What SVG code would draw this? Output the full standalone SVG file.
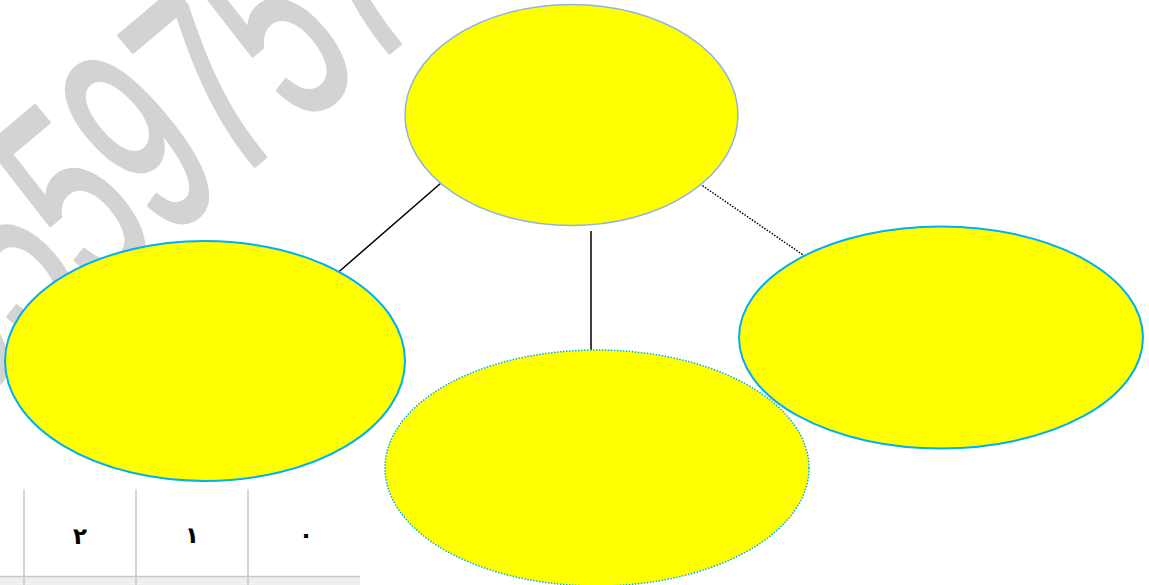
<svg xmlns="http://www.w3.org/2000/svg" width="1149" height="585" viewBox="0 0 1149 585">
<style>
.wm{font-family:"Liberation Sans",Arial,sans-serif;fill:#d3d3d3;stroke:#d3d3d3;stroke-width:5;stroke-linejoin:round}
.node{fill:#ffff00}
.solid{stroke:#00b0f0;stroke-width:2}
.top{stroke:#8eb4e3;stroke-width:1.5}
.dotted{stroke:#00b0f0;stroke-width:1.5;stroke-dasharray:1.5 1.5}
.conn{stroke:#000;stroke-width:1.5;fill:none}
.conn-dot{stroke-dasharray:1.5 1.5}
.grid{stroke:#c8c8c8;stroke-width:1.5}
.digit{font-family:"DejaVu Sans","Noto Sans",sans-serif;font-size:23px;font-weight:bold;fill:#000;text-anchor:middle}
</style>
<g id="watermark">
<text class="wm" font-size="270" transform="translate(-37.2,409.9) rotate(-40) scale(0.586,1)">0559757</text>
</g>
<g id="table">
<rect x="0" y="577" width="360" height="8" fill="#eeeeee"/>
<line class="grid" x1="0" y1="576.5" x2="360" y2="576.5"/>
<line class="grid" x1="24" y1="489" x2="24" y2="585"/>
<line class="grid" x1="136" y1="489" x2="136" y2="585"/>
<line class="grid" x1="248" y1="489" x2="248" y2="585"/>
<text class="digit" x="80" y="544">٢</text>
<text class="digit" x="192" y="543">١</text>
<text class="digit" x="306" y="543">٠</text>
</g>
<g id="connectors">
<line class="conn" x1="441" y1="183" x2="334" y2="276"/>
<line class="conn" x1="591" y1="231" x2="591" y2="350"/>
<line class="conn conn-dot" x1="700" y1="184" x2="809" y2="259"/>
</g>
<g id="node-top">
<ellipse class="node top" cx="571.5" cy="115" rx="166.5" ry="110.5"/>
</g>
<g id="node-left">
<ellipse class="node solid" cx="205" cy="361" rx="200" ry="120"/>
</g>
<g id="node-bottom">
<ellipse class="node dotted" cx="597" cy="468" rx="212" ry="118"/>
</g>
<g id="node-right">
<ellipse class="node solid" cx="941" cy="337.5" rx="202" ry="111"/>
</g>
</svg>
